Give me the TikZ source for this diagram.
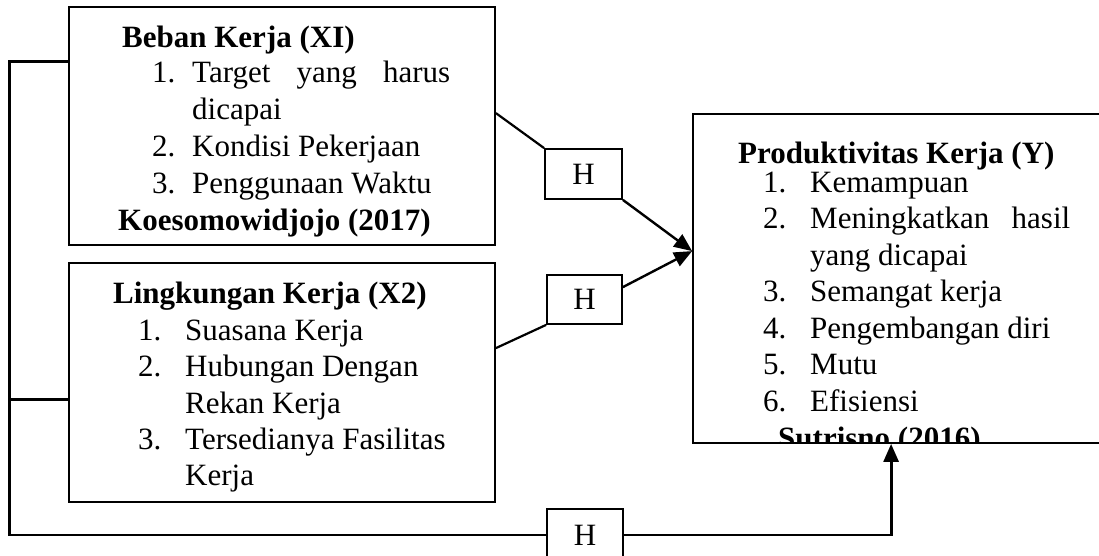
\documentclass[tikz,border=0pt]{standalone}
\usepackage{fontspec}
\setmainfont{Liberation Serif}
\usetikzlibrary{arrows.meta}
\tikzset{
  box/.style={draw, line width=1.8pt, inner sep=0pt, rectangle},
  hbox/.style={draw, line width=1.8pt, inner sep=0pt, rectangle, font=\fontsize{31}{37}\selectfont},
  txt/.style={anchor=base west, inner sep=0pt, font=\fontsize{31}{37}\selectfont},
  ttl/.style={anchor=base west, inner sep=0pt, font=\fontsize{31}{37}\selectfont\bfseries},
  thick line/.style={line width=2.8pt, line join=miter},
  conn/.style={line width=2.2pt},
  arr/.style={line width=2.4pt, -{Triangle[length=18pt,width=15pt]}},
}
\begin{document}
\begin{tikzpicture}[x=1pt,y=-1pt]
\useasboundingbox (0,0) rectangle (1099,555);
\clip (0,0) rectangle (1099,555);
\fill[white] (0,0) rectangle (1099,555);

% boxes
\node[box, minimum width=426pt, minimum height=238pt] (b1) at (282,126) {};
\node[box, minimum width=426pt, minimum height=239pt] (b2) at (282,382.5) {};
\node[box, minimum width=409pt, minimum height=329pt] (Y) at (897.5,278.5) {};
\node[hbox, minimum width=77pt, minimum height=50pt] (h1) at (583.5,174) {H};
\node[hbox, minimum width=75pt, minimum height=49pt] (h2) at (584.5,299.5) {H};
\node[hbox, minimum width=76pt, minimum height=52pt] (h3) at (585,535) {H};

% box 1 text
\node[ttl] (t1a) at (122,47) {Beban Kerja (XI)};
\node[txt] (n1a) at (152,82) {1.};
\node[txt] (t1b) at (192,82) {\hbox to 258pt{Target\hfill yang\hfill harus}};
\node[txt] (t1c) at (192,119) {dicapai};
\node[txt] (n1b) at (152,156) {2.};
\node[txt] (t1d) at (192,156) {Kondisi Pekerjaan};
\node[txt] (n1c) at (152,193) {3.};
\node[txt] (t1e) at (192,193) {Penggunaan Waktu};
\node[ttl] (t1f) at (118,230) {Koesomowidjojo (2017)};

% box 2 text
\node[ttl] (t2a) at (113,303) {Lingkungan Kerja (X2)};
\node[txt] (n2a) at (138,340) {1.};
\node[txt] (t2b) at (185,340) {Suasana Kerja};
\node[txt] (n2b) at (138,376) {2.};
\node[txt] (t2c) at (185,376) {Hubungan Dengan};
\node[txt] (t2d) at (185,413) {Rekan Kerja};
\node[txt] (n2c) at (138,449) {3.};
\node[txt] (t2e) at (185,449) {Tersedianya Fasilitas};
\node[txt] (t2f) at (185,485) {Kerja};

% box Y text
\node[ttl] (tya) at (738,163) {Produktivitas Kerja (Y)};
\node[txt] (nya) at (763,192) {1.};
\node[txt] (tyb) at (810,192) {Kemampuan};
\node[txt] (nyb) at (763,228.5) {2.};
\node[txt] (tyc) at (810,228.5) {\hbox to 260pt{Meningkatkan\hfill hasil}};
\node[txt] (tyd) at (810,265) {yang dicapai};
\node[txt] (nyc) at (763,301.5) {3.};
\node[txt] (tye) at (810,301.5) {Semangat kerja};
\node[txt] (nyd) at (763,338) {4.};
\node[txt] (tyf) at (810,338) {Pengembangan diri};
\node[txt] (nye) at (763,374.5) {5.};
\node[txt] (tyg) at (810,374.5) {Mutu};
\node[txt] (nyf) at (763,411) {6.};
\node[txt] (tyh) at (810,411) {Efisiensi};
\begin{scope}
\clip (Y.north west) rectangle ([yshift=2.5pt]Y.south east);
\node[ttl] (tyi) at (778,448) {Sutrisno (2016)};
\end{scope}

% connectors
\draw[conn] ([yshift=-107pt]b1.north east) -- (h1.north west);
\draw[arr] (h1.south east) -- ([yshift=-138pt]Y.north west);
\draw[conn] ([yshift=-86pt]b2.north east) -- (h2.south west);
\draw[arr] ([yshift=-13pt]h2.north east) -- ([yshift=-138pt]Y.north west);

% bracket
\draw[thick line] ([yshift=-55pt]b1.north west) -- ++(-59,0) |- (h3.west);
\draw[thick line] ([yshift=-137pt]b2.north west) -- ++(-59,0);
\draw[thick line, -{Triangle[length=18pt,width=15pt]}] (h3.east) -| ([xshift=199pt]Y.south west);
\end{tikzpicture}
\end{document}
